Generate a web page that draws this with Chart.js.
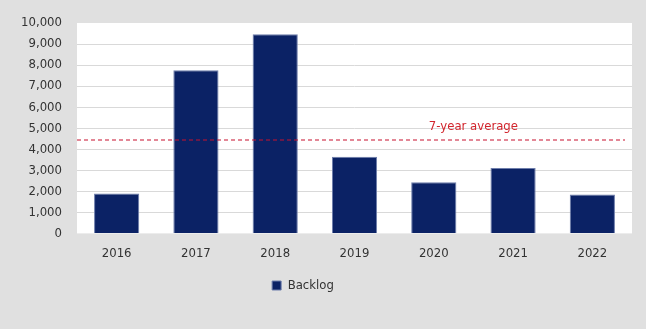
<!DOCTYPE html>
<html>
<head>
<meta charset="utf-8">
<script src="https://cdn.jsdelivr.net/npm/chart.js@4"></script>
<style>
html,body{margin:0;padding:0;background:#e0e0e0;}
#wrap{width:646px;height:329px;position:relative;}
</style>
</head>
<body>
<div id="wrap"><canvas id="c"></canvas></div>
<script>
const categories = ['2016','2017','2018','2019','2020','2021','2022'];
const backlog = [1900, 7750, 9470, 3640, 2430, 3110, 1850];
const averageValue = [4430];
const averageLabel = ['7-year average'];
const seriesName = ['Backlog'];

const FONT = '"DejaVu Sans Condensed", "Liberation Sans Narrow", sans-serif';

const plotBg = {
  id: 'plotBg',
  beforeDraw(chart) {
    const {ctx, chartArea: a} = chart;
    ctx.save();
    ctx.fillStyle = '#ffffff';
    ctx.fillRect(a.left, a.top, a.right - a.left, a.bottom - a.top);
    ctx.restore();
  }
};

const avgLine = {
  id: 'avgLine',
  afterDatasetsDraw(chart) {
    const {ctx, chartArea: a, scales} = chart;
    const y = Math.round(scales.y.getPixelForValue(averageValue[0]));
    ctx.save();
    ctx.strokeStyle = '#c8102e';
    ctx.lineWidth = 1.2;
    ctx.setLineDash([4, 3]);
    ctx.beginPath();
    ctx.moveTo(a.left, y);
    ctx.lineTo(a.right - 7, y);
    ctx.stroke();
    ctx.setLineDash([]);
    ctx.fillStyle = '#d2262e';
    ctx.font = '13px ' + FONT;
    ctx.textAlign = 'center';
    ctx.textBaseline = 'middle';
    const xMid = (scales.x.getPixelForValue(4) + scales.x.getPixelForValue(5)) / 2;
    ctx.fillText(averageLabel[0], xMid, y - 13);
    ctx.restore();
  }
};

const legendShift = {
  id: 'legendShift',
  afterLayout(chart) {
    if (chart.legend) {
      chart.legend.left -= 13;
      chart.legend.right -= 13;
    }
  }
};

new Chart(document.getElementById('c'), {
  type: 'bar',
  data: {
    labels: categories,
    datasets: [{
      label: seriesName[0],
      data: backlog,
      backgroundColor: '#0b2265',
      borderColor: '#6d7dab',
      borderWidth: 1,
      categoryPercentage: 1,
      barPercentage: 0.57
    }]
  },
  options: {
    responsive: true,
    maintainAspectRatio: false,
    animation: false,
    layout: { padding: { top: 23, right: 14, bottom: 27, left: 0 } },
    plugins: {
      tooltip: { enabled: false },
      legend: {
        position: 'bottom',
        labels: {
          boxWidth: 9, boxHeight: 9, padding: 6,
          color: '#333333',
          font: { family: FONT, size: 13 }
        }
      }
    },
    scales: {
      x: {
        grid: { display: false, drawTicks: false },
        border: { display: false },
        ticks: { color: '#333333', font: { family: FONT, size: 13 }, padding: 12 }
      },
      y: {
        min: 0, max: 10000,
        afterFit(s) { s.width = 77; },
        grid: {
          drawTicks: false,
          color: (c) => (c.tick && (c.tick.value === 0 || c.tick.value === 10000)) ? 'rgba(0,0,0,0)' : '#d9d9d9'
        },
        border: { display: false },
        ticks: {
          stepSize: 1000, autoSkip: false, padding: 15, color: '#333333',
          font: { family: FONT, size: 13 },
          callback: (v) => v.toLocaleString('en-US')
        }
      }
    }
  },
  plugins: [plotBg, avgLine, legendShift]
});
</script>
</body>
</html>
